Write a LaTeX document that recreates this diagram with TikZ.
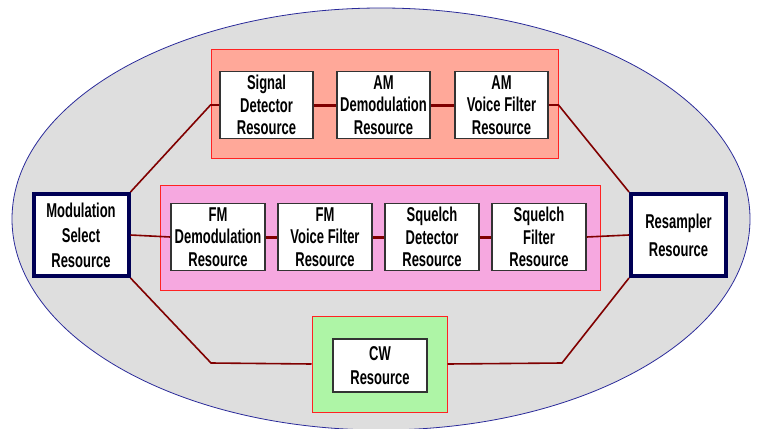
\documentclass[tikz,border=0pt]{standalone}
\usepackage{fontspec}
\newfontfamily\boxfont{Liberation Sans}[FakeStretch=0.65]
\usetikzlibrary{positioning}

\definecolor{ovalfill}{HTML}{DEDEDE}
\definecolor{ovalline}{HTML}{2A2A9A}
\definecolor{amfill}{HTML}{FFA899}
\definecolor{fmfill}{HTML}{F6A8E0}
\definecolor{cwfill}{HTML}{AEF5A6}
\definecolor{grpline}{HTML}{FF2222}
\definecolor{boxline}{HTML}{333333}
\definecolor{endline}{HTML}{000055}
\definecolor{wire}{HTML}{800000}

\begin{document}
\begin{tikzpicture}[x=1pt, y=-1pt, node distance=107pt,
res/.style = {draw=boxline, line width=1.5pt, fill=white, minimum width=93pt,
  minimum height=67pt, inner sep=0pt, align=center,
  font=\boxfont\bfseries\fontsize{20}{22.5}\selectfont},
ends/.style = {res, draw=endline, line width=4pt, minimum width=95pt,
  minimum height=82pt},
grp/.style = {draw=grpline, line width=1pt, inner sep=0pt},
link/.style = {draw=wire, line width=1.6pt},
chain/.style = {draw=wire, line width=3pt}]
    \useasboundingbox (0,0) rectangle (757,428);
    \clip (0,0) rectangle (757,428);

    % outer oval
    \draw[fill=ovalfill, draw=ovalline, line width=0.8pt] (381,219)
        ellipse [x radius=369pt, y radius=211pt];

    % groups
    \node[grp, fill=amfill, minimum width=347pt, minimum height=108pt] (amgrp) at (384.5,104) {};
    \node[grp, fill=fmfill, minimum width=440pt, minimum height=105pt] (fmgrp) at (380,237.5) {};
    \node[grp, fill=cwfill, minimum width=135pt, minimum height=96pt] (cwgrp) at (379.5,364) {};

    % AM chain
    \node[res] (sd) at (266.5,105) {Signal\\Detector\\Resource};
    \node[res] (ad) [right of=sd, node distance=117pt] {AM\\Demodulation\\Resource};
    \node[res] (av) [right of=ad, node distance=118pt] {AM\\Voice Filter\\Resource};

    % FM chain
    \node[res, minimum width=94pt] (fd) at (218,237) {FM\\Demodulation\\Resource};
    \node[res, minimum width=94pt] (fv) [right of=fd] {FM\\Voice Filter\\Resource};
    \node[res, minimum width=94pt] (qd) [right of=fv] {Squelch\\Detector\\Resource};
    \node[res, minimum width=94pt] (qf) [right of=qd] {Squelch\\Filter\\Resource};

    % CW
    \node[res, minimum width=94pt, minimum height=53pt,
        font=\boxfont\bfseries\fontsize{20}{24}\selectfont] (cw) at (380,365.5) {CW\\Resource};

    % end points
    \node[ends, font=\boxfont\bfseries\fontsize{20}{25}\selectfont] (mod) at (81,235) {Modulation\\Select\\Resource};
    \node[ends, font=\boxfont\bfseries\fontsize{20}{28}\selectfont] (rsm) at (678.5,235) {Resampler\\Resource};

    \coordinate (amin) at (sd.west -| amgrp.west);
    \coordinate (amout) at (av.east -| amgrp.east);
    \coordinate (cwin) at (211,363);
    \coordinate (cwout) at (562,363);

    \draw[link] (mod.north east) -- (amin) -- (sd.west);
    \draw[link] (av.east) -- (amout) -- (rsm.north west);
    \draw[link] (mod.east) -- (fd.west);
    \draw[link] (qf.east) -- (rsm.west);
    \draw[link] (mod.south east) -- (cwin) -- (cwgrp.west);
    \draw[link] (cwgrp.east) -- (cwout) -- (rsm.south west);

    \draw[chain] (sd) -- (ad);
    \draw[chain] (ad) -- (av);
    \draw[chain] (fd) -- (fv);
    \draw[chain] (fv) -- (qd);
    \draw[chain] (qd) -- (qf);

\end{tikzpicture}
\end{document}
